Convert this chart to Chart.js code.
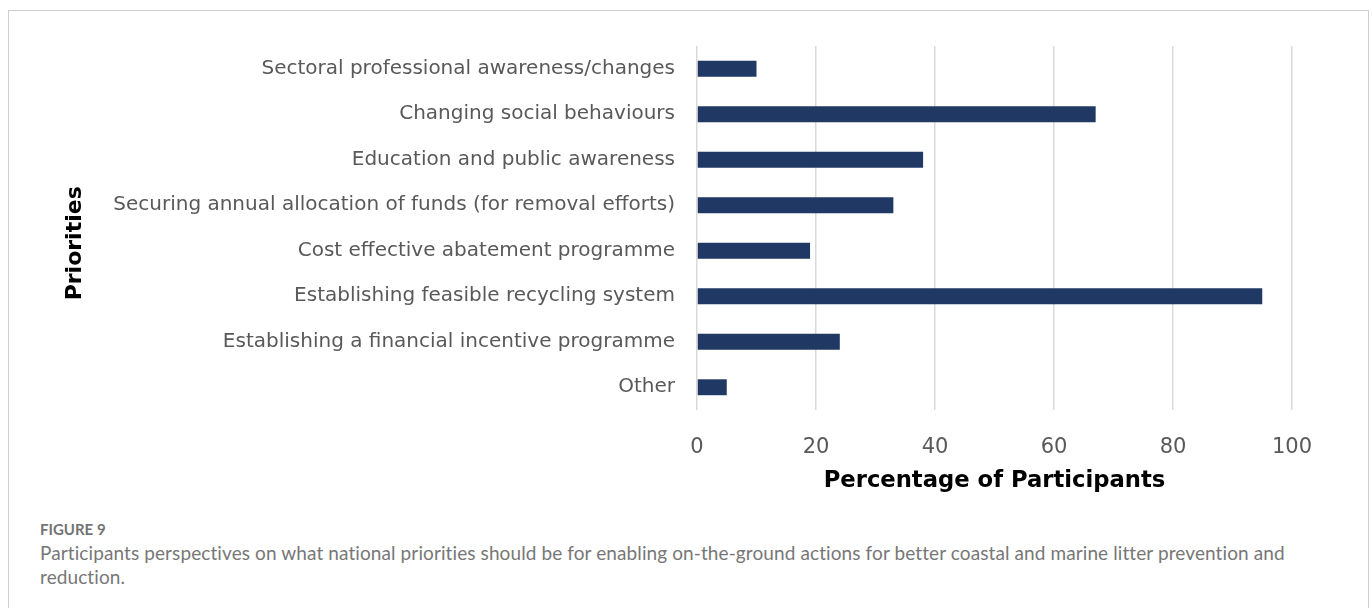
<!DOCTYPE html>
<html>
<head>
<meta charset="utf-8">
<script src="https://cdn.jsdelivr.net/npm/chart.js@4.4.1/dist/chart.umd.min.js"></script>
<style>
  html, body { margin: 0; padding: 0; background: #fff; }
  body { width: 1372px; height: 608px; position: relative; overflow: hidden; }
  .frame {
    position: absolute; left: 8px; top: 10px; width: 1361px; height: 640px;
    border: 1px solid #cfcfcf; box-sizing: border-box;
  }
  .chart-box { position: absolute; left: 9px; top: 11px; width: 1358px; height: 490px; }
  .fig-label {
    position: absolute; left: 40px; top: 519px;
    font: 700 15px Lato, sans-serif; color: #737373; line-height: 20px;
  }
  .fig-caption {
    position: absolute; left: 40px; top: 541px; width: 1300px;
    font: 400 19px Lato, sans-serif; color: #777; line-height: 24px; letter-spacing: 0.1px;
  }
</style>
</head>
<body>
<div class="frame"></div>
<div class="chart-box"><canvas id="chart"></canvas></div>
<div class="fig-label">FIGURE 9</div>
<div class="fig-caption">Participants perspectives on what national priorities should be for enabling on-the-ground actions for better coastal and marine litter prevention and reduction.</div>
<script>
const categories = [
  "Sectoral professional awareness/changes",
  "Changing social behaviours",
  "Education and public awareness",
  "Securing annual allocation of funds (for removal efforts)",
  "Cost effective abatement programme",
  "Establishing feasible recycling system",
  "Establishing a financial incentive programme",
  "Other",
];
const percentages = [10, 67, 38, 33, 19, 95, 24, 5];
const xTicks = [0, 20, 40, 60, 80, 100];

const ctx = document.getElementById("chart").getContext("2d");
new Chart(ctx, {
  type: "bar",
  data: {
    labels: categories,
    datasets: [
      {
        data: percentages,
        backgroundColor: "#203864",
        borderWidth: 0,
        barPercentage: 0.7,
        categoryPercentage: 0.5,
      },
    ],
  },
  options: {
    indexAxis: "y",
    responsive: true,
    maintainAspectRatio: false,
    animation: false,
    layout: { padding: { top: 35, right: 75, left: 53, bottom: 0 } },
    plugins: { legend: { display: false }, tooltip: { enabled: false } },
    scales: {
      x: {
        min: 0,
        max: 100,
        afterBuildTicks: (axis) => {
          axis.ticks = xTicks.map((v) => ({ value: v }));
        },
        grid: { color: "#d9d9d9", lineWidth: 1.5, drawTicks: false },
        border: { display: false },
        ticks: { color: "#595959", font: { family: "DejaVu Sans", size: 21 }, padding: 25 },
        title: {
          display: true,
          text: "Percentage of Participants",
          color: "#000",
          font: { family: "DejaVu Sans", size: 22.7, weight: "bold" },
          padding: { top: 6, bottom: 6 },
        },
        afterFit: (axis) => {
          axis.height = 91;
        },
      },
      y: {
        grid: { display: false, drawTicks: false },
        border: { display: false },
        ticks: { color: "#595959", font: { family: "DejaVu Sans", size: 20 }, padding: 22 },
        title: {
          display: true,
          // trailing spaces nudge the rotated title down, as in the original
          text: "Priorities\u00a0\u00a0\u00a0\u00a0",
          color: "#000",
          font: { family: "DejaVu Sans", size: 22, weight: "bold" },
          padding: { top: 0, bottom: 10 },
        },
        afterFit: (axis) => {
          axis.width = 697 - 9 - 53;
        },
      },
    },
  },
});
</script>
</body>
</html>
